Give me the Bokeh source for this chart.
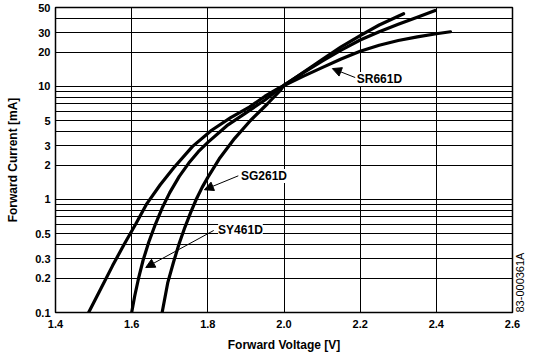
from math import pi
from bokeh.plotting import figure
from bokeh.models import Range1d, FixedTicker, Label, Arrow, NormalHead, LogAxis
from bokeh.embed import file_html
from bokeh.resources import INLINE

# Forward voltage [V] / forward current [mA]
sr661d_v = [1.487, 1.52, 1.55, 1.58, 1.61, 1.64, 1.675, 1.71, 1.76, 1.81, 1.86, 1.91, 1.95, 1.985, 2.00, 2.05, 2.10, 2.15, 2.20, 2.25, 2.30, 2.35, 2.40, 2.437]
sr661d_i = [0.10, 0.165, 0.26, 0.40, 0.60, 0.92, 1.35, 1.90, 2.95, 4.10, 5.30, 6.60, 8.20, 9.60, 10.2, 12.3, 14.7, 17.5, 20.5, 23.2, 25.5, 27.5, 29.3, 30.5]

sy461d_v = [1.600, 1.608, 1.618, 1.630, 1.645, 1.662, 1.680, 1.700, 1.725, 1.750, 1.775, 1.800, 1.850, 1.900, 1.950, 1.985, 2.000, 2.050, 2.100, 2.150, 2.200, 2.250, 2.314]
sy461d_i = [0.10, 0.14, 0.20, 0.29, 0.42, 0.60, 0.84, 1.15, 1.60, 2.10, 2.65, 3.20, 4.50, 5.85, 7.60, 9.40, 10.2, 13.3, 17.3, 22.4, 28.2, 35.0, 44.0]

sg261d_v = [1.680, 1.695, 1.710, 1.725, 1.740, 1.755, 1.770, 1.785, 1.800, 1.830, 1.870, 1.912, 1.956, 1.991, 2.000, 2.050, 2.100, 2.150, 2.200, 2.250, 2.300, 2.350, 2.397]
sg261d_i = [0.10, 0.185, 0.28, 0.41, 0.57, 0.77, 1.01, 1.28, 1.57, 2.29, 3.46, 5.00, 7.00, 9.30, 10.3, 13.2, 16.8, 21.0, 25.8, 30.5, 35.5, 41.0, 47.0]

x_ticks = [1.4, 1.6, 1.8, 2.0, 2.2, 2.4, 2.6]
x_tick_labels = ["1.4", "1.6", "1.8", "2.0", "2.2", "2.4", "2.6"]
x_grid = [1.6, 1.8, 2.0, 2.2, 2.4]
y_ticks = [0.1, 0.2, 0.3, 0.5, 1, 2, 3, 5, 10, 20, 30, 50]
y_tick_labels = ["0.1", "0.2", "0.3", "0.5", "1", "2", "3", "5", "10", "20", "30", "50"]
y_grid = [0.1, 0.2, 0.3, 0.4, 0.5, 0.6, 0.7, 0.8, 0.9, 1, 2, 3, 4, 5, 6, 7, 8, 9, 10, 20, 30, 40, 50]

# annotation placement (data coordinates)
label_names = ["SR661D", "SG261D", "SY461D"]
label_x = [2.191, 1.887, 1.827]
label_y = [11.65, 1.615, 0.532]
arrow_x0 = [2.187, 1.880, 1.8155]
arrow_y0 = [12.0, 1.62, 0.532]
arrow_x1 = [2.127, 1.791, 1.637]
arrow_y1 = [14.4, 1.22, 0.25]

# drawing number printed vertically beside the frame
drawing_number = "83-000361A"
drawing_number_at = 0.1

FONT = "Liberation Sans"

p = figure(width=534, height=364, output_backend="svg", toolbar_location=None,
           y_axis_type="log", x_range=Range1d(1.4, 2.6), y_range=Range1d(0.1, 50),
           min_border_left=55, min_border_right=22, min_border_top=7, min_border_bottom=52)
p.background_fill_color = "white"
p.border_fill_color = "white"
p.outline_line_color = "black"
p.outline_line_width = 1.5

# grid
p.xgrid.ticker = FixedTicker(ticks=x_grid)
p.ygrid.ticker = FixedTicker(ticks=y_grid)
for g in (p.xgrid, p.ygrid):
    g.grid_line_color = "black"
    g.grid_line_alpha = 1.0
    g.grid_line_width = 1

# axes
p.xaxis.ticker = FixedTicker(ticks=x_ticks)
p.xaxis.major_label_overrides = dict(zip(x_ticks, x_tick_labels))
p.yaxis.ticker = FixedTicker(ticks=y_ticks)
p.yaxis.major_label_overrides = dict(zip(y_ticks, y_tick_labels))
for ax in (p.xaxis, p.yaxis):
    ax.axis_line_color = None
    ax.major_tick_line_color = None
    ax.minor_tick_line_color = None
    ax.major_tick_out = 0
    ax.major_tick_in = 0
    ax.major_label_text_font = FONT
    ax.major_label_text_font_style = "bold"
    ax.major_label_text_font_size = "11px"
    ax.major_label_text_color = "black"
    ax.axis_label_text_font = FONT
    ax.axis_label_text_font_style = "bold"
    ax.axis_label_text_font_size = "12px"
    ax.axis_label_text_color = "black"
p.xaxis.axis_label = "Forward Voltage [V]"
p.yaxis.axis_label = "Forward Current [mA]"
p.xaxis.major_label_standoff = 7
p.xaxis.axis_label_standoff = 7
p.yaxis.major_label_standoff = 5
p.yaxis.axis_label_standoff = 12

# right-hand axis used only to print the drawing number vertically
side = LogAxis(ticker=FixedTicker(ticks=[drawing_number_at]),
               major_label_overrides={drawing_number_at: drawing_number},
               major_label_orientation=pi / 2, major_label_standoff=7,
               major_label_text_font=FONT, major_label_text_font_size="11px",
               major_label_text_color="black", axis_line_color=None,
               major_tick_line_color=None, minor_tick_line_color=None,
               major_tick_out=0, major_tick_in=0)
p.add_layout(side, "right")

# curves
for vs, cs in ((sr661d_v, sr661d_i), (sy461d_v, sy461d_i), (sg261d_v, sg261d_i)):
    p.line(vs, cs, line_color="black", line_width=3.2, line_join="round", line_cap="round")

# arrows and labels
for i in range(len(label_names)):
    p.add_layout(Arrow(end=NormalHead(size=9, fill_color="black", line_color="black", line_width=1),
                       x_start=arrow_x0[i], y_start=arrow_y0[i], x_end=arrow_x1[i], y_end=arrow_y1[i],
                       line_color="black", line_width=1))
    p.add_layout(Label(x=label_x[i], y=label_y[i], text=label_names[i], text_align="left",
                       text_baseline="middle", text_font=FONT, text_font_style="bold",
                       text_font_size="12px", text_color="black", background_fill_color="white"))

open("out.html", "w").write(file_html(p, INLINE))
